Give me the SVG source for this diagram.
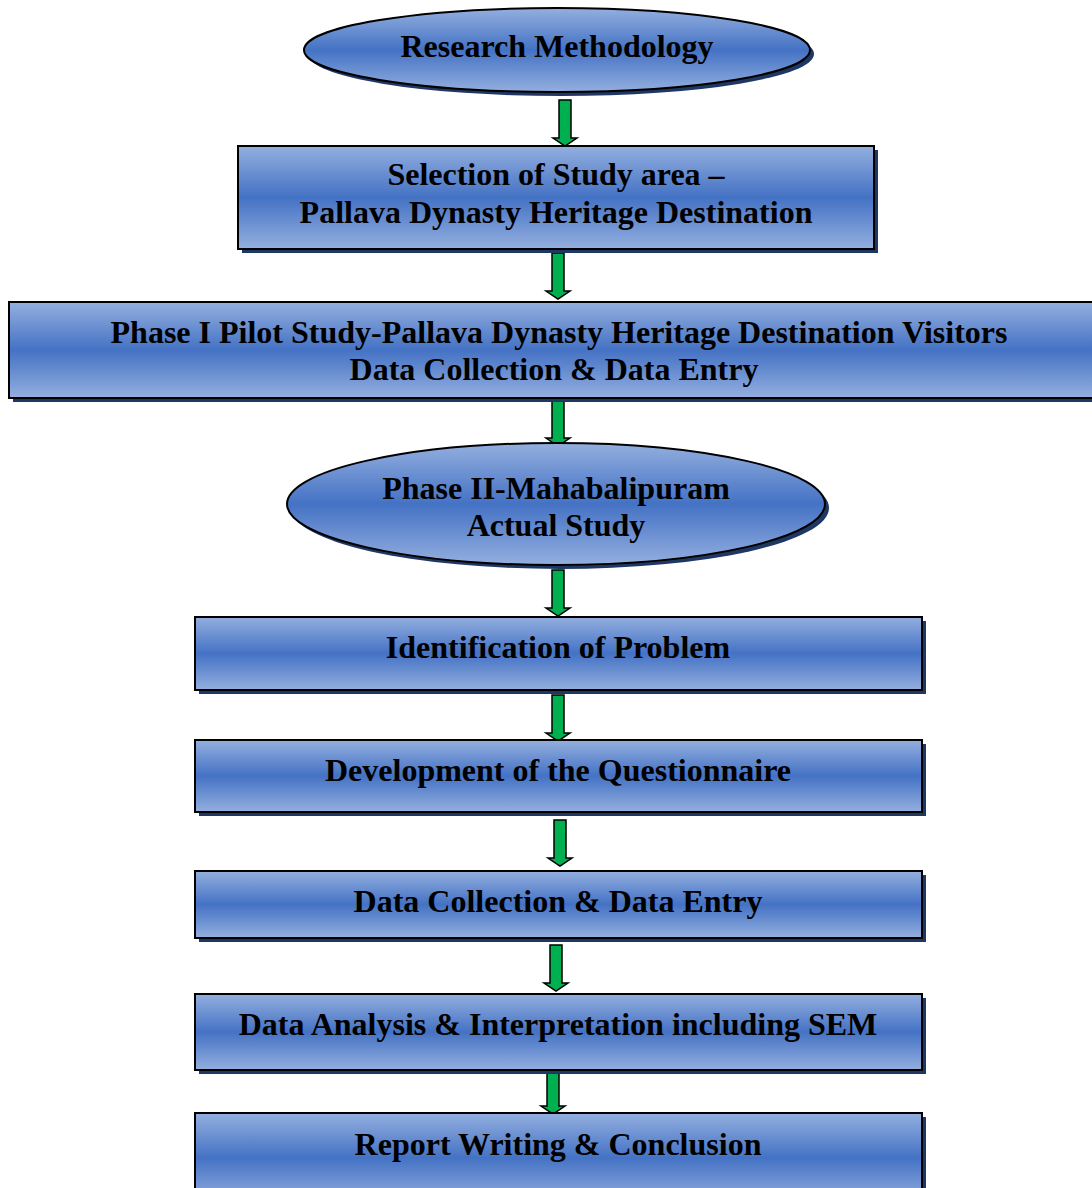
<svg xmlns="http://www.w3.org/2000/svg" width="1092" height="1188" viewBox="0 0 1092 1188">
<defs>
<linearGradient id="g" x1="0" y1="0" x2="0" y2="1">
<stop offset="0" stop-color="#94afdf"/>
<stop offset="0.5" stop-color="#4472c4"/>
<stop offset="1" stop-color="#94afdf"/>
</linearGradient>
<path id="arr" d="M-6,0 H6 V38 H12 L0,46 L-12,38 H-6 Z"/>
</defs>
<style>
.sh{fill:#1f3763}
.nd{fill:url(#g);stroke:#000;stroke-width:2}
.t{font-family:"Liberation Serif","Times New Roman",serif;font-weight:bold;font-size:32px;fill:#000;text-anchor:middle}
.a{fill:#00b050;stroke:#000;stroke-width:1.5}
</style>
<rect width="1092" height="1188" fill="#fff"/>
<g id="connectors">
<use href="#arr" class="a" x="565" y="100"/>
<use href="#arr" class="a" x="558" y="253"/>
<use href="#arr" class="a" x="558" y="400"/>
<use href="#arr" class="a" x="558" y="570"/>
<use href="#arr" class="a" x="558" y="695"/>
<use href="#arr" class="a" x="560" y="820"/>
<use href="#arr" class="a" x="556" y="945"/>
<use href="#arr" class="a" x="553" y="1068"/>
</g>
<g id="n1">
<ellipse class="sh" cx="561" cy="54" rx="253" ry="42"/>
<ellipse class="nd" cx="557" cy="50" rx="253" ry="42"/>
<text class="t" x="557" y="57">Research Methodology</text>
</g>
<g id="n2">
<rect class="sh" x="242" y="150" width="636" height="103"/>
<rect class="nd" x="238" y="146" width="636" height="103"/>
<text class="t" x="556" y="185">Selection of Study area –</text>
<text class="t" x="556" y="223">Pallava Dynasty Heritage Destination</text>
</g>
<g id="n3">
<rect class="sh" x="13" y="306" width="1100" height="96"/>
<rect class="nd" x="9" y="302" width="1100" height="96"/>
<text class="t" x="559" y="343">Phase I Pilot Study-Pallava Dynasty Heritage Destination Visitors</text>
<text class="t" x="554" y="380">Data Collection &amp; Data Entry</text>
</g>
<g id="n4">
<ellipse class="sh" cx="560" cy="508" rx="269" ry="61"/>
<ellipse class="nd" cx="556" cy="504" rx="269" ry="61"/>
<text class="t" x="556" y="499">Phase II-Mahabalipuram</text>
<text class="t" x="556" y="536">Actual Study</text>
</g>
<g id="n5">
<rect class="sh" x="199" y="621" width="727" height="73"/>
<rect class="nd" x="195" y="617" width="727" height="73"/>
<text class="t" x="558" y="658">Identification of Problem</text>
</g>
<g id="n6">
<rect class="sh" x="199" y="744" width="727" height="72"/>
<rect class="nd" x="195" y="740" width="727" height="72"/>
<text class="t" x="558" y="781">Development of the Questionnaire</text>
</g>
<g id="n7">
<rect class="sh" x="199" y="875" width="727" height="67"/>
<rect class="nd" x="195" y="871" width="727" height="67"/>
<text class="t" x="558" y="912">Data Collection &amp; Data Entry</text>
</g>
<g id="n8">
<rect class="sh" x="199" y="998" width="727" height="76"/>
<rect class="nd" x="195" y="994" width="727" height="76"/>
<text class="t" x="558" y="1035">Data Analysis &amp; Interpretation including SEM</text>
</g>
<g id="n9">
<rect class="sh" x="199" y="1117" width="727" height="90"/>
<rect class="nd" x="195" y="1113" width="727" height="90"/>
<text class="t" x="558" y="1155">Report Writing &amp; Conclusion</text>
</g>
</svg>
